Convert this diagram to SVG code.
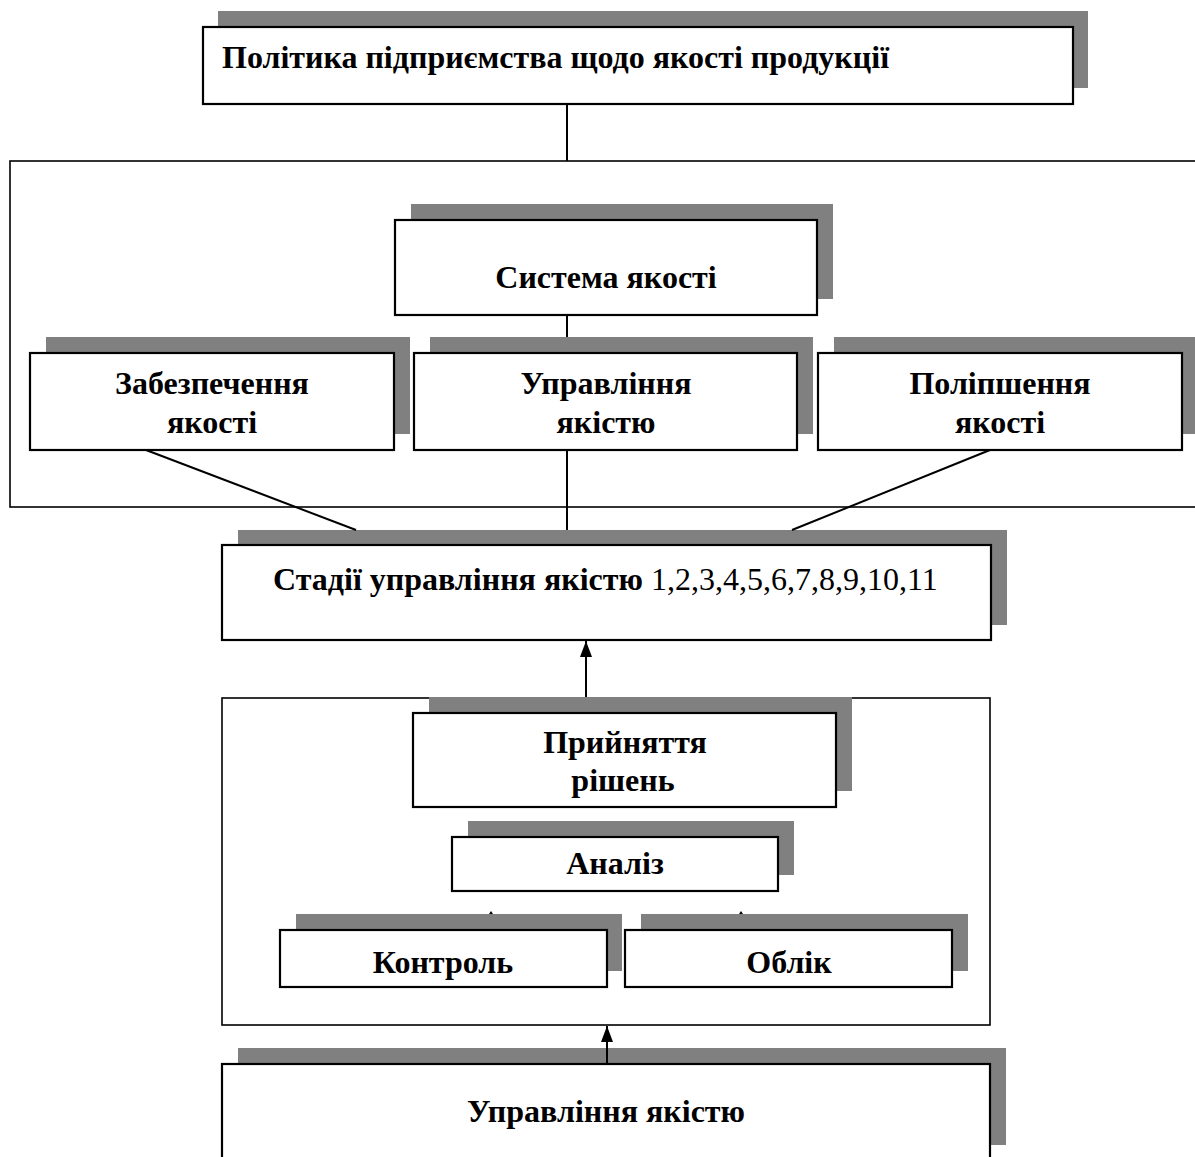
<svg xmlns="http://www.w3.org/2000/svg" width="1195" height="1157" viewBox="0 0 1195 1157">
<defs>
<style>
.sh{fill:#808080;stroke:none}
.bx{fill:#fff;stroke:#000;stroke-width:2.2}
.frame{fill:none;stroke:#000;stroke-width:1.6}
.t{font-family:"Liberation Serif","Times New Roman",serif;font-size:32px;font-weight:bold;fill:#000}
.c{text-anchor:middle}
.n{font-weight:normal}
.ln{stroke:#000;stroke-width:2;fill:none}
</style>
<marker id="ah" viewBox="0 0 16 12" refX="16" refY="6" markerWidth="16" markerHeight="12" markerUnits="userSpaceOnUse" orient="auto">
<path d="M0,0 L16,6 L0,12 Z" fill="#000"/>
</marker>
</defs>
<rect width="1195" height="1157" fill="#fff"/>

<g id="frame-system"><rect class="frame" x="10" y="161" width="1200" height="346"/></g>
<g id="frame-stages"><rect class="frame" x="222" y="698" width="768" height="327"/></g>

<g id="policy">
<rect class="sh" x="218" y="11" width="870" height="77"/>
<rect class="bx" x="203" y="27" width="870" height="77"/>
<text class="t" x="222" y="68">Політика підприємства щодо якості продукції</text>
</g>

<g id="quality-system">
<rect class="sh" x="411" y="204" width="422" height="95"/>
<rect class="bx" x="395" y="220" width="422" height="95"/>
<text class="t c" x="606" y="288">Система якості</text>
</g>

<g id="assurance">
<rect class="sh" x="46" y="337" width="364" height="97"/>
<rect class="bx" x="30" y="353" width="364" height="97"/>
<text class="t c" x="212" y="394">Забезпечення</text>
<text class="t c" x="212" y="433">якості</text>
</g>

<g id="management">
<rect class="sh" x="430" y="337" width="383" height="97"/>
<rect class="bx" x="414" y="353" width="383" height="97"/>
<text class="t c" x="606" y="394">Управління</text>
<text class="t c" x="606" y="433">якістю</text>
</g>

<g id="improvement">
<rect class="sh" x="834" y="337" width="364" height="97"/>
<rect class="bx" x="818" y="353" width="364" height="97"/>
<text class="t c" x="1000" y="394">Поліпшення</text>
<text class="t c" x="1000" y="433">якості</text>
</g>

<g id="stages">
<rect class="sh" x="238" y="530" width="769" height="95"/>
<rect class="bx" x="222" y="545" width="769" height="95"/>
<text class="t" x="273" y="590">Стадії управління якістю <tspan class="n">1,2,3,4,5,6,7,8,9,10,11</tspan></text>
</g>

<g id="decisions">
<rect class="sh" x="429" y="697" width="423" height="94"/>
<rect class="bx" x="413" y="713" width="423" height="94"/>
<text class="t c" x="625" y="753">Прийняття</text>
<text class="t c" x="623" y="791">рішень</text>
</g>

<g id="analysis">
<rect class="sh" x="468" y="821" width="326" height="54"/>
<rect class="bx" x="452" y="837" width="326" height="54"/>
<text class="t c" x="615" y="874">Аналіз</text>
</g>

<g id="control">
<rect class="sh" x="296" y="914" width="326" height="57"/>
<rect class="bx" x="280" y="930" width="327" height="57"/>
<text class="t c" x="443" y="973">Контроль</text>
</g>

<g id="accounting">
<rect class="sh" x="641" y="914" width="327" height="57"/>
<rect class="bx" x="625" y="930" width="327" height="57"/>
<text class="t c" x="789" y="973">Облік</text>
</g>

<g id="quality-management">
<rect class="sh" x="238" y="1048" width="768" height="97"/>
<rect class="bx" x="222" y="1064" width="768" height="100"/>
<text class="t c" x="606" y="1122">Управління якістю</text>
</g>

<g id="connectors">
<line class="ln" x1="567" y1="104" x2="567" y2="161"/>
<line class="ln" x1="567" y1="315" x2="567" y2="337"/>
<line class="ln" x1="146" y1="450" x2="356" y2="530"/>
<line class="ln" x1="567" y1="450" x2="567" y2="530"/>
<line class="ln" x1="990" y1="450" x2="792" y2="530"/>
<line class="ln" x1="586" y1="697" x2="586" y2="641" marker-end="url(#ah)"/>
<line class="ln" x1="607" y1="1064" x2="607" y2="1026" marker-end="url(#ah)"/>
<path d="M491,911 L489,914 L493,914 Z" fill="#000"/>
<path d="M741,911 L739,914 L743,914 Z" fill="#000"/>
</g>
</svg>
